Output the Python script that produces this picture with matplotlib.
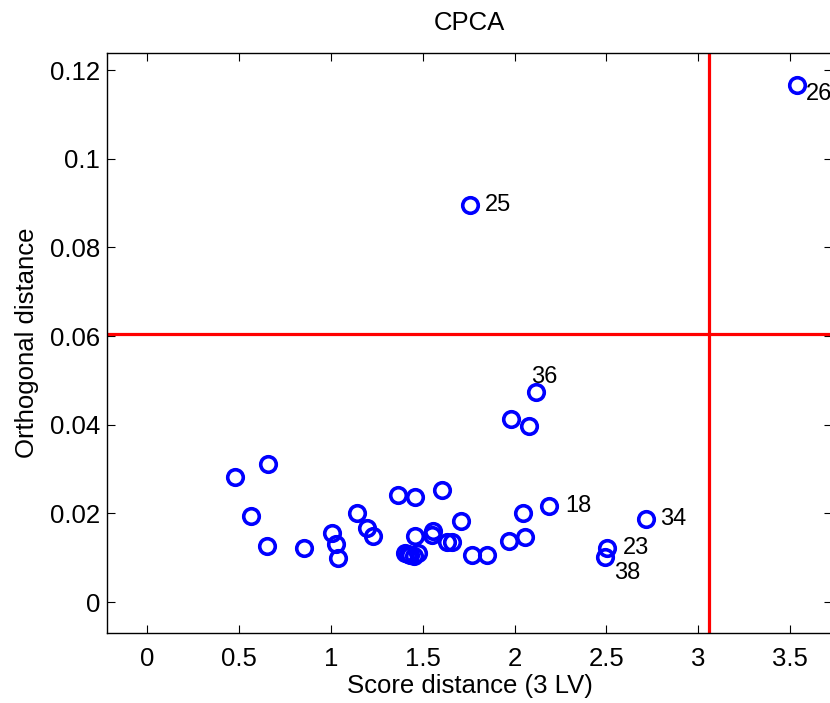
import matplotlib
matplotlib.use("Agg")
import matplotlib.pyplot as plt
from matplotlib.ticker import FuncFormatter

plt.rcParams['font.family'] = ['Liberation Sans', 'DejaVu Sans']

# score distance / orthogonal distance for each sample
score_dist = [0.477, 0.658, 0.564, 0.649, 0.854, 1.003, 1.025, 1.038, 1.139, 1.194,
              1.230, 1.363, 1.457, 1.455, 1.402, 1.430, 1.452, 1.473, 1.419, 1.553,
              1.548, 1.606, 1.631, 1.660, 1.707, 1.766, 1.851, 1.971, 1.981, 2.080,
              2.116, 2.047, 2.056, 2.187, 2.501, 2.490, 2.713, 1.757, 3.538]
orth_dist = [0.0281, 0.0311, 0.0194, 0.0126, 0.0123, 0.0156, 0.0130, 0.0100, 0.0200, 0.0166,
             0.0149, 0.0241, 0.0236, 0.0149, 0.0110, 0.0105, 0.0103, 0.0110, 0.0108, 0.0161,
             0.0151, 0.0252, 0.0135, 0.0136, 0.0183, 0.0105, 0.0105, 0.0137, 0.0412, 0.0398,
             0.0473, 0.0201, 0.0147, 0.0217, 0.0121, 0.0101, 0.0187, 0.0896, 0.1166]

# labelled outliers: index into the arrays above, label
out_idx = [30, 33, 34, 35, 36, 37, 38]
out_lab = ["36", "18", "23", "38", "34", "25", "26"]
# label offsets in points (dx, dy)
out_off = [(-3.5, 11), (11.5, 0), (11.5, 0), (7, -11), (10.5, 0), (10.5, 0), (6, -6)]

# cutoff limits
sd_lim = 3.058
od_lim = 0.0605

fig = plt.figure(figsize=(8.3, 7.03), dpi=100)
ax = fig.add_axes([0.1289, 0.0996, 0.8735, 0.8246])

ax.plot(score_dist, orth_dist, 'o', mfc='none', mec=(0, 0, 1), ms=11.2, mew=2.6, zorder=3)
ax.axvline(sd_lim, color=(1, 0, 0), lw=2.3, zorder=2)
ax.axhline(od_lim, color=(1, 0, 0), lw=2.3, zorder=2)

for i, lab, off in zip(out_idx, out_lab, out_off):
    ax.annotate(lab, (score_dist[i], orth_dist[i]), xytext=off, textcoords='offset points',
                ha='left', va='center', fontsize=17)

ax.set_xlim(-0.22, 3.728)
ax.set_ylim(-0.00698, 0.1238)
ax.set_xticks([0, 0.5, 1, 1.5, 2, 2.5, 3, 3.5])
ax.set_yticks([0, 0.02, 0.04, 0.06, 0.08, 0.1, 0.12])
ax.xaxis.set_major_formatter(FuncFormatter(lambda v, p: '%g' % v))
ax.yaxis.set_major_formatter(FuncFormatter(lambda v, p: '%g' % v))
ax.tick_params(direction='in', length=6, width=0.8, labelsize=18.5, top=True, right=True)
ax.tick_params(axis='x', pad=10)
ax.tick_params(axis='y', pad=5)
for s in ax.spines.values():
    s.set_linewidth(1.0)

ax.set_xlabel("Score distance (3 LV)", fontsize=18.5, labelpad=2)
ax.set_ylabel("Orthogonal distance", fontsize=18.5, labelpad=8)
ax.set_title("CPCA", fontsize=18.5, pad=17)

fig.savefig("out.png", dpi=100)
